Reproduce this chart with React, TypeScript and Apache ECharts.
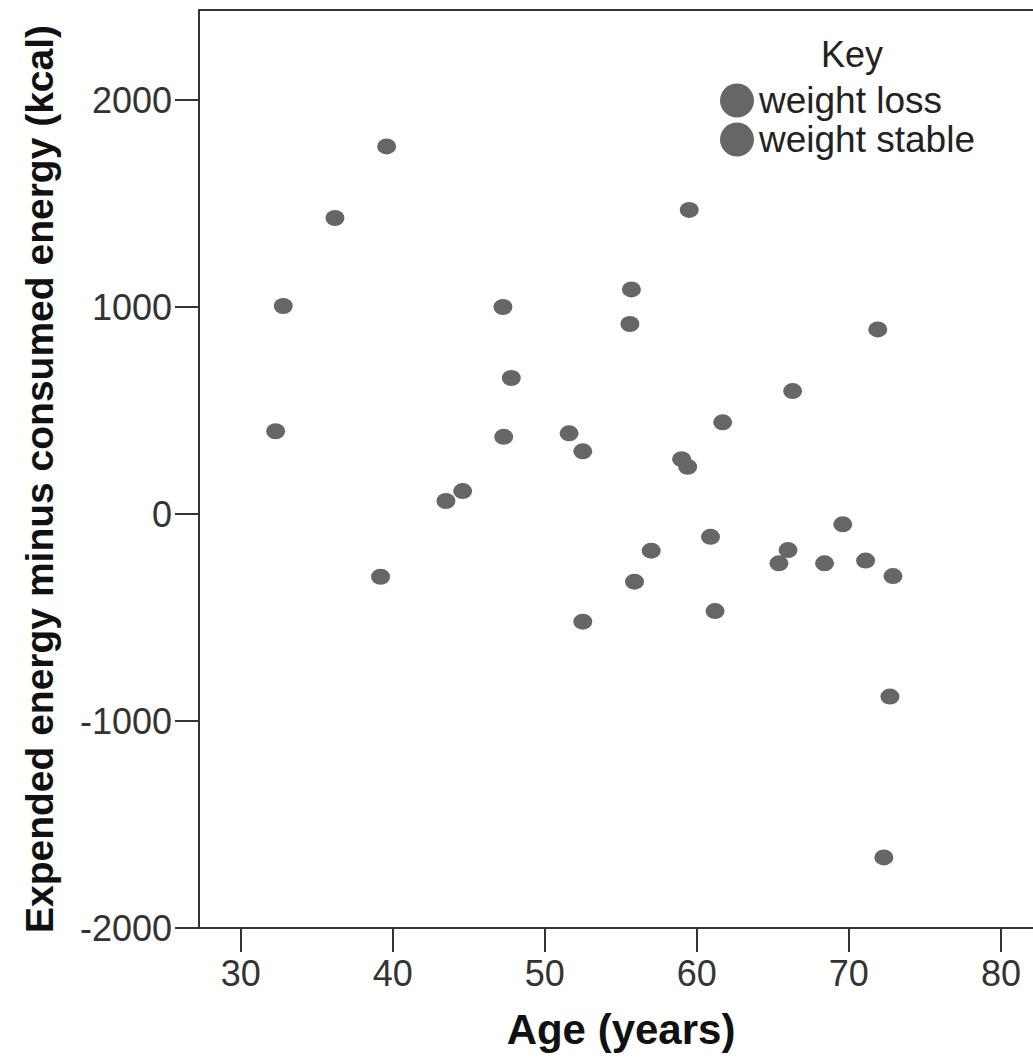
import React, { useEffect, useRef } from "react";
import * as echarts from "echarts";

// Age (years) and expended minus consumed energy (kcal).
// Both groups use the same grey marker in the original, so the points cannot be told apart.
const ages = [32.3, 32.8, 36.2, 39.6, 39.2, 43.5, 44.6, 47.3, 47.8, 47.25, 51.6, 52.5, 52.5, 55.7, 55.6, 59.5, 59.0, 59.4, 61.7, 66.3, 71.9, 57.0, 55.9, 60.9, 61.2, 66.0, 65.4, 68.4, 69.6, 71.1, 72.9, 72.7, 72.3];
const energy = [400, 1005, 1430, 1776, -303, 63, 111, 373, 657, 1000, 390, 303, -520, 1085, 918, 1469, 265, 228, 443, 594, 892, -177, -327, -110, -469, -174, -238, -238, -50, -225, -300, -882, -1659];

const xTicks = [30, 40, 50, 60, 70, 80];
const yTicks = [-2000, -1000, 0, 1000, 2000];
const legendNames = ["weight loss", "weight stable"];

const FONT = "'Liberation Sans', Arial, sans-serif";
const ELLIPSE = "path://M0,50 A50,50 0 1 1 100,50 A50,50 0 1 1 0,50 Z";
const DOT = "#666666";
const X_MIN = 27.26;
const X_MAX = 82.11;

export default function App() {
  const ref = useRef<HTMLDivElement>(null);
  useEffect(() => {
    if (!ref.current) return;
    const chart = echarts.init(ref.current, undefined, { renderer: "svg" });
    const points = ages.map((a, i) => [a, energy[i]]);
    const lineStyle = { color: "#333", width: 2 };
    chart.setOption({
      animation: false,
      backgroundColor: "#ffffff",
      title: {
        text: "Key",
        left: 816,
        top: 31,
        textStyle: { fontFamily: FONT, fontSize: 36, fontWeight: "normal", color: "#222" },
      },
      legend: {
        data: legendNames,
        orient: "vertical",
        left: 715,
        top: 77,
        itemWidth: 38,
        itemHeight: 34,
        itemGap: 2,
        icon: ELLIPSE,
        textStyle: { fontFamily: FONT, fontSize: 37, color: "#222", padding: [0, 0, 0, -2] },
        selectedMode: false,
      },
      grid: {
        left: 199,
        top: 10,
        right: 0,
        bottom: 131,
        show: false,
        containLabel: false,
      },
      xAxis: [
        {
          type: "value",
          min: X_MIN,
          max: X_MAX,
          name: "Age (years)",
          nameLocation: "middle",
          nameGap: 80,
          nameTextStyle: {
            fontFamily: FONT,
            fontSize: 42,
            fontWeight: "bold",
            color: "#111",
            padding: [0, 0, 0, 10],
          },
          splitLine: { show: false },
          axisLine: { show: true, onZero: false, lineStyle },
          axisTick: { show: true, length: 24, customValues: xTicks, lineStyle },
          axisLabel: {
            customValues: xTicks,
            fontFamily: FONT,
            fontSize: 36,
            color: "#333",
            margin: 27,
            formatter: (v: number) => String(v),
          },
        },
        {
          type: "value",
          position: "top",
          min: X_MIN,
          max: X_MAX,
          splitLine: { show: false },
          axisLine: { show: true, onZero: false, lineStyle },
          axisTick: { show: false },
          axisLabel: { show: false },
        },
      ],
      yAxis: {
        type: "value",
        min: -2000,
        max: 2435,
        name: "Expended energy minus consumed energy (kcal)",
        nameLocation: "middle",
        nameGap: 140,
        nameTextStyle: {
          fontFamily: FONT,
          fontSize: 39,
          fontWeight: "bold",
          color: "#111",
          padding: [0, 20, 0, 0],
        },
        splitLine: { show: false },
        axisLine: { show: true, onZero: false, lineStyle },
        axisTick: { show: true, length: 24, customValues: yTicks, lineStyle },
        axisLabel: {
          customValues: yTicks,
          fontFamily: FONT,
          fontSize: 36,
          color: "#333",
          margin: 27,
          formatter: (v: number) => String(v),
        },
      },
      series: [
        {
          name: legendNames[0],
          type: "scatter",
          data: points,
          symbol: ELLIPSE,
          symbolSize: [19, 16],
          itemStyle: { color: DOT, opacity: 1 },
        },
        {
          name: legendNames[1],
          type: "scatter",
          data: [],
          symbol: ELLIPSE,
          symbolSize: [19, 16],
          itemStyle: { color: DOT, opacity: 1 },
        },
      ],
    });
    return () => chart.dispose();
  }, []);
  return (
    <div
      ref={ref}
      style={{ position: "absolute", left: 0, top: 0, width: 1033, height: 1059 }}
    />
  );
}
